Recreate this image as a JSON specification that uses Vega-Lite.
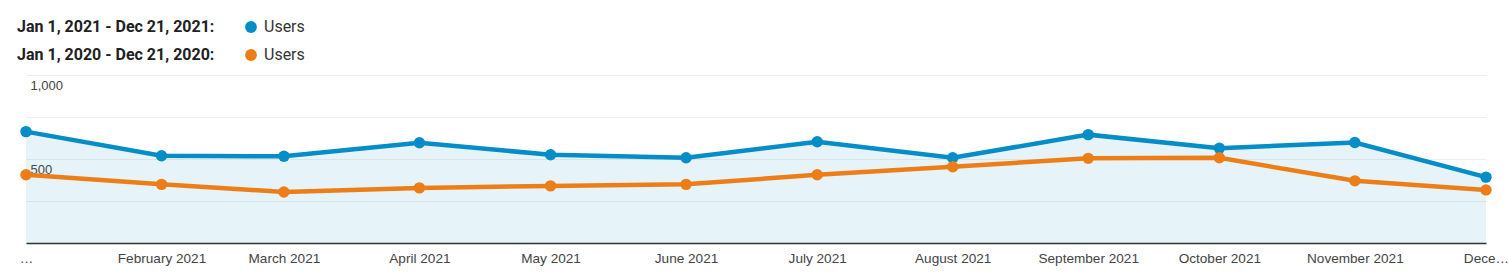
{
  "$schema": "https://vega.github.io/schema/vega-lite/v6.json",
  "width": 1460,
  "height": 168,
  "autosize": {"type": "none"},
  "padding": {"left": 26, "top": 75, "right": 22, "bottom": 35},
  "background": "white",
  "config": {"view": {"stroke": null}},
  "data": {
    "values": [
      {"date": "2021-01-01", "series": "2021", "users": 663},
      {"date": "2021-02-01", "series": "2021", "users": 519},
      {"date": "2021-03-01", "series": "2021", "users": 516},
      {"date": "2021-04-01", "series": "2021", "users": 597},
      {"date": "2021-05-01", "series": "2021", "users": 525},
      {"date": "2021-06-01", "series": "2021", "users": 507},
      {"date": "2021-07-01", "series": "2021", "users": 603},
      {"date": "2021-08-01", "series": "2021", "users": 507},
      {"date": "2021-09-01", "series": "2021", "users": 645},
      {"date": "2021-10-01", "series": "2021", "users": 564},
      {"date": "2021-11-01", "series": "2021", "users": 598},
      {"date": "2021-12-01", "series": "2021", "users": 392},
      {"date": "2021-01-01", "series": "2020", "users": 406},
      {"date": "2021-02-01", "series": "2020", "users": 349},
      {"date": "2021-03-01", "series": "2020", "users": 304},
      {"date": "2021-04-01", "series": "2020", "users": 328},
      {"date": "2021-05-01", "series": "2020", "users": 340},
      {"date": "2021-06-01", "series": "2020", "users": 349},
      {"date": "2021-07-01", "series": "2020", "users": 406},
      {"date": "2021-08-01", "series": "2020", "users": 454},
      {"date": "2021-09-01", "series": "2020", "users": 504},
      {"date": "2021-10-01", "series": "2020", "users": 507},
      {"date": "2021-11-01", "series": "2020", "users": 370},
      {"date": "2021-12-01", "series": "2020", "users": 316}
    ]
  },
  "encoding": {
    "x": {
      "field": "date",
      "type": "temporal",
      "scale": {
        "type": "utc",
        "domain": [
          {"year": 2021, "month": 1, "date": 1, "utc": true},
          {"year": 2021, "month": 12, "date": 1, "utc": true}
        ],
        "nice": false
      },
      "axis": {
        "title": null,
        "grid": false,
        "ticks": false,
        "domain": true,
        "domainColor": "#333333",
        "domainWidth": 1.5,
        "tickCount": {"interval": "month", "step": 1},
        "format": "%B %Y",
        "labelExpr": "utcmonth(datum.value) == 0 ? '…' : (utcmonth(datum.value) == 11 ? 'Dece…' : datum.label)",
        "labelFont": "Liberation Sans",
        "labelFontSize": 13.6,
        "labelColor": "#444444",
        "labelPadding": 8,
        "labelBaseline": "top",
        "labelFlush": false,
        "labelOverlap": false,
        "labelBound": false
      }
    },
    "y": {
      "field": "users",
      "type": "quantitative",
      "scale": {"domain": [0, 1000], "nice": false},
      "axis": {
        "title": null,
        "domain": false,
        "ticks": false,
        "values": [0, 250, 500, 750, 1000],
        "gridColor": "#eeeeee",
        "labelExpr": "datum.value == 500 || datum.value == 1000 ? datum.label : ''",
        "labelAlign": "left",
        "labelBaseline": "top",
        "labelPadding": -4,
        "labelOffset": 4,
        "labelFont": "Liberation Sans",
        "labelFontSize": 13,
        "labelColor": "#444444"
      }
    }
  },
  "layer": [
    {
      "transform": [{"filter": "datum.series == '2021'"}],
      "mark": {"type": "area", "color": "#058dc7", "opacity": 0.1}
    },
    {
      "mark": {"type": "line", "strokeWidth": 4.5},
      "encoding": {
        "color": {
          "field": "series",
          "type": "nominal",
          "scale": {"domain": ["2021", "2020"], "range": ["#058dc7", "#ed7e17"]},
          "legend": {
            "orient": "none",
            "legendX": -9,
            "legendY": -56,
            "title": ["Jan 1, 2021 - Dec 21, 2021:", "Jan 1, 2020 - Dec 21, 2020:"],
            "titleOrient": "left",
            "titleFont": "Roboto",
            "titleFontSize": 16,
            "titleFontWeight": "bold",
            "titleColor": "#212121",
            "titleLineHeight": 28,
            "titleBaseline": "middle",
            "titlePadding": 28,
            "titleLimit": 500,
            "labelExpr": "'Users'",
            "labelFont": "Roboto",
            "labelFontSize": 16,
            "labelColor": "#333333",
            "labelOffset": 5,
            "symbolType": "circle",
            "symbolSize": 140,
            "symbolStrokeWidth": 0,
            "rowPadding": 12
          }
        }
      }
    },
    {
      "mark": {"type": "point", "filled": true, "size": 130, "opacity": 1},
      "encoding": {
        "color": {"field": "series", "type": "nominal", "legend": null}
      }
    }
  ]
}
